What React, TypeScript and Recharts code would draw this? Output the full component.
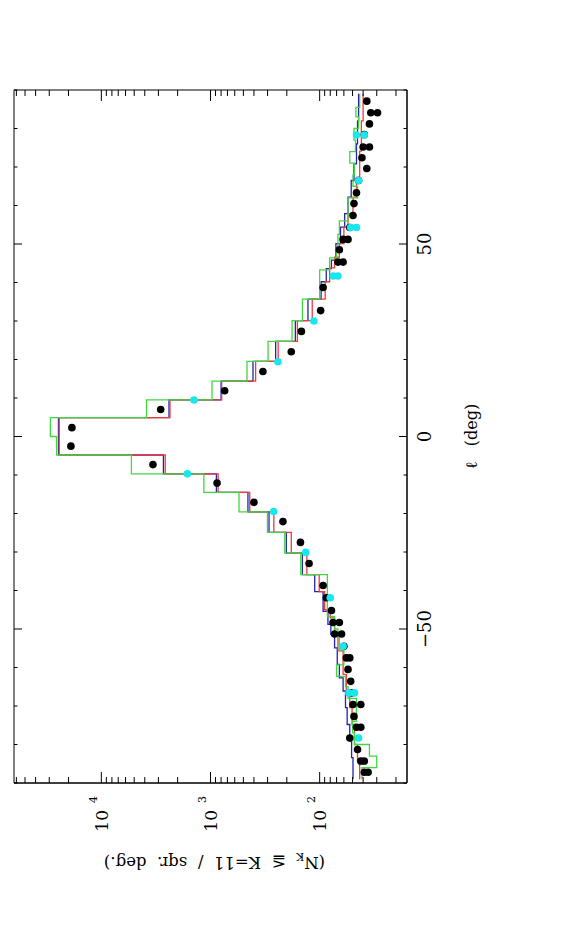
import React from 'react';
import { ComposedChart, Line, Scatter, XAxis, YAxis, ReferenceArea } from 'recharts';

const FONT = '"DejaVu Serif", serif';

// galactic longitude ticks (deg); labelled every 50
const lonTicks = [-90, -80, -70, -60, -50, -40, -30, -20, -10, 0, 10, 20, 30, 40, 50, 60, 70, 80, 90];
const lonLabelled = [-50, 0, 50];
const lonRange = [-90, 90];

// star counts axis (log), labelled on the decades
const countTicks = [
  20, 30, 40, 50, 60, 70, 80, 90,
  100, 200, 300, 400, 500, 600, 700, 800, 900,
  1000, 2000, 3000, 4000, 5000, 6000, 7000, 8000, 9000,
  10000, 20000, 30000, 40000, 50000, 60000,
];
const countDecades = [100, 1000, 10000];
const countRange = [15.85, 63096];

// model histograms: bin edges in l (deg), counts per bin
const blueEdges = [
  -89, -83.4, -79.1, -74.8, -70.4, -66.1, -62.7, -59.2, -54.9, -51.4, -48.8, -45.4, -40.3,
  -35.9, -30.3, -24.9, -19.6, -14.5, -9.7, -4.8, 4.9, 9.5, 14.4, 19.5, 24.7, 30.1, 35.7,
  40.2, 43.6, 45.8, 50.1, 54.4, 57.9, 62.2, 66.5, 70.8, 76, 82, 89,
];
const blueCounts = [
  49.5, 51, 53, 56, 58, 61, 66, 69, 73, 79, 84, 93, 111,
  144, 202, 291, 454, 883, 2700, 24700, 2400, 800, 408, 253, 167, 128, 97,
  87, 78, 71, 64.5, 59, 55, 51.4, 48.5, 46, 45, 44,
];

const redEdges = [
  -89, -84.3, -80, -74.8, -70.4, -66.1, -61.8, -55.7, -51.4, -47.1, -45, -40.3,
  -35.9, -30.3, -24.9, -19.6, -14.5, -9.7, -4.8, 4.9, 9.5, 14.4, 19.5, 24.7, 30.1, 35.7,
  40.2, 43.8, 46.6, 50.1, 54.4, 57.9, 62.2, 67.3, 74.1, 82, 89,
];
const redCounts = [
  43, 45, 48, 50.5, 53, 57, 61, 68, 73, 80, 90, 101,
  131, 182, 263, 437, 851, 2600, 24300, 2350, 790, 386, 240, 160, 117, 89,
  81, 73, 66, 60, 55, 49.5, 46, 43, 41.5, 40,
];

const greenEdges = [
  -89, -86, -83, -80, -77, -74, -68, -65, -62.3, -59.3, -55.5, -52, -50, -46.7,
  -35.9, -30.3, -24.9, -19.6, -14.5, -9.7, -4.8, 0, 4.9, 9.5, 14.4, 19.5, 24.7, 30.1, 35.7,
  43.3, 46.4, 49, 52.5, 56, 62, 65, 68, 71, 74, 77, 80, 83, 85.5, 89,
];
const greenCounts = [
  41, 30, 35, 48, 50, 46, 55, 58, 70, 60, 66, 68, 73, 85,
  149, 209, 301, 548, 1150, 5300, 25700, 29300, 3860, 968, 463, 297, 179, 144, 100,
  81, 70, 68, 66, 55, 45, 49.5, 48, 53, 47, 48.5, 44, 46.5, 43,
];

// observed counts
const blackL = [
  -87.2, -87.2, -84.3, -84.3, -81.3, -78.3, -75.5, -75.5, -72.7, -69.6, -69.6, -66.6, -63.6,
  -60.5, -57.5, -57.5, -54.5, -51.3, -51.3, -48.3, -48.3, -45.2, -41.9, -38.7, -33.0, -27.5,
  -22.1, -17.1, -12.1, -7.3, -2.5, 2.3, 7.0, 11.9, 16.9, 22.0, 27.3, 32.7, 38.7, 45.3, 45.3,
  48.5, 51.2, 51.2, 54.3, 57.4, 60.5, 63.3, 66.5, 69.6, 72.4, 75.2, 75.2, 78.4, 81.2, 84.1,
  84.1, 87.1,
];
const blackN = [
  39, 36, 42, 39, 45, 53, 46, 42, 48.5, 49.5, 42, 51, 52,
  55, 57, 53, 60, 73, 63, 75.5, 66, 78, 87, 93, 125, 150,
  217, 400, 871, 3365, 19000, 18600, 2860, 742, 331, 182, 147, 98, 93, 68, 61,
  66, 61, 55, 53, 49.5, 48.5, 46, 44, 37, 41, 40, 35, 39, 35, 34,
  29.5, 37,
];

const cyanL = [-78.3, -66.6, -66.6, -54.5, -41.9, -30.1, -19.5, -9.7, 9.5, 19.4, 30.0, 41.7, 41.7, 54.3, 54.3, 66.5, 78.3, 78.3];
const cyanN = [44, 54, 48, 61, 80, 134, 264, 1630, 1416, 241, 113, 75, 68, 52, 46, 44, 46, 39];

const steps = (edges: number[], counts: number[]) => {
  const pts = counts.map((n, i) => ({ l: edges[i], n }));
  pts.push({ l: edges[edges.length - 1], n: counts[counts.length - 1] });
  return pts;
};

const points = (ls: number[], ns: number[]) => ls.map((l, i) => ({ l, n: ns[i] }));

const blueData = steps(blueEdges, blueCounts);
const redData = steps(redEdges, redCounts);
const greenData = steps(greenEdges, greenCounts);
const blackData = points(blackL, blackN);
const cyanData = points(cyanL, cyanN);

// chart geometry (landscape, rotated onto the portrait page)
const W = 944;
const H = 569;
const margin = { top: 14, right: 90, bottom: 122, left: 101 };
const yAxisW = 60;
const xAxisH = 40;
const plotW = W - margin.left - margin.right - yAxisW;
const plotH = H - margin.top - margin.bottom - xAxisH;

const fmtLon = (v: number) => (v < 0 ? `\u2212${-v}` : `${v}`);

// ticks point inwards and are repeated on the opposite side of the frame
const LonTick = (props: any) => {
  const { x, y, payload } = props;
  const v = payload.value;
  const len = v % 50 === 0 ? 8 : 3.5;
  const yTop = y - plotH;
  return (
    <g>
      <line x1={x} x2={x} y1={y} y2={y - len} stroke="#000" strokeWidth={1} />
      <line x1={x} x2={x} y1={yTop} y2={yTop + len} stroke="#000" strokeWidth={1} />
      {lonLabelled.includes(v) && (
        <text x={x} y={y + 24} textAnchor="middle" fontSize={18} fontFamily={FONT} fill="#000">
          {fmtLon(v)}
        </text>
      )}
    </g>
  );
};

const CountTick = (props: any) => {
  const { x, y, payload } = props;
  const v = payload.value;
  const major = countDecades.includes(v);
  const len = major ? 11 : 6;
  const xRight = x + plotW;
  return (
    <g>
      <line x1={x} x2={x + len} y1={y} y2={y} stroke="#000" strokeWidth={1} />
      <line x1={xRight} x2={xRight - len} y1={y} y2={y} stroke="#000" strokeWidth={1} />
      {major && (
        <g fontFamily={FONT} fill="#000">
          <text x={x - 27} y={y + 6.3} textAnchor="end" fontSize={17}>10</text>
          <text x={x - 20} y={y - 4.7} textAnchor="start" fontSize={11}>
            {Math.round(Math.log10(v))}
          </text>
        </g>
      )}
    </g>
  );
};

const LonTitle = (props: any) => {
  const { viewBox } = props;
  return (
    <text
      x={viewBox.x + viewBox.width / 2}
      y={viewBox.y + 70}
      textAnchor="middle"
      fontSize={16}
      fontFamily={FONT}
      fill="#000"
      style={{ whiteSpace: 'pre' }}
    >
      {'\u2113   (deg)'}
    </text>
  );
};

const CountTitle = (props: any) => {
  const { viewBox } = props;
  const cx = viewBox.x - 14;
  const cy = viewBox.y + viewBox.height / 2 + 4;
  return (
    <text
      x={cx}
      y={cy}
      transform={`rotate(-90 ${cx} ${cy})`}
      textAnchor="middle"
      fontSize={16.5}
      fontFamily={FONT}
      fill="#000"
      style={{ whiteSpace: 'pre' }}
    >
      (N<tspan fontSize={11} dy={4}>K</tspan>
      <tspan dy={-4}>{'  \u2266  K=11  /  sqr.  deg.)'}</tspan>
    </text>
  );
};

const Dot = (color: string) => (p: any) => <circle cx={p.cx} cy={p.cy} r={3.8} fill={color} />;

export default function App() {
  return (
    <div style={{ position: 'absolute', left: 0, top: 0, width: 569, height: 944, overflow: 'hidden', background: '#fff' }}>
      <div
        style={{
          position: 'absolute',
          left: 0,
          top: 0,
          width: W,
          height: H,
          transformOrigin: '0 0',
          transform: `translate(0px, ${W}px) rotate(-90deg)`,
        }}
      >
        <ComposedChart width={W} height={H} margin={margin}>
          <XAxis
            dataKey="l"
            type="number"
            domain={lonRange}
            ticks={lonTicks}
            interval={0}
            allowDataOverflow
            height={xAxisH}
            tickSize={0}
            tickMargin={0}
            tickLine={false}
            axisLine={{ stroke: '#000', strokeWidth: 1 }}
            tick={<LonTick />}
            label={<LonTitle />}
          />
          <YAxis
            dataKey="n"
            type="number"
            scale="log"
            domain={countRange}
            ticks={countTicks}
            interval={0}
            allowDataOverflow
            width={yAxisW}
            tickSize={0}
            tickMargin={0}
            tickLine={false}
            axisLine={{ stroke: '#000', strokeWidth: 1 }}
            tick={<CountTick />}
            label={<CountTitle />}
          />
          <ReferenceArea
            x1={lonRange[0]}
            x2={lonRange[1]}
            y1={countRange[0]}
            y2={countRange[1]}
            fill="none"
            fillOpacity={0}
            stroke="#000"
            strokeWidth={1}
            ifOverflow="visible"
          />
          <Line data={blueData} dataKey="n" type="stepAfter" stroke="#2424b0" strokeWidth={1.3} dot={false} activeDot={false} isAnimationActive={false} />
          <Line data={redData} dataKey="n" type="stepAfter" stroke="#f03a3a" strokeWidth={1.3} dot={false} activeDot={false} isAnimationActive={false} />
          <Line data={greenData} dataKey="n" type="stepAfter" stroke="#3fd83f" strokeWidth={1.3} dot={false} activeDot={false} isAnimationActive={false} />
          <Scatter data={blackData} dataKey="n" shape={Dot('#000')} isAnimationActive={false} />
          <Scatter data={cyanData} dataKey="n" shape={Dot('#18e8ee')} isAnimationActive={false} />
        </ComposedChart>
      </div>
    </div>
  );
}
